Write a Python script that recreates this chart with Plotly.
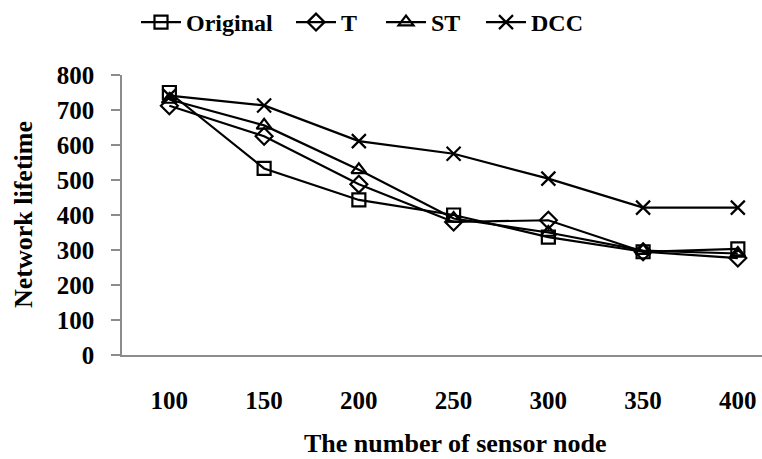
import plotly.graph_objects as go

nodes = ["100", "150", "200", "250", "300", "350", "400"]
original = [750, 533, 443, 400, 337, 295, 303]
t_vals = [712, 625, 488, 380, 385, 295, 277]
st_vals = [730, 656, 529, 390, 350, 298, 290]
dcc_vals = [741, 713, 611, 575, 504, 421, 421]

series = [
    ("Original", original, "square-open"),
    ("T", t_vals, "diamond-open"),
    ("ST", st_vals, "triangle-up-open"),
    ("DCC", dcc_vals, "x-thin-open"),
]
legend_ids = ["legend", "legend2", "legend3", "legend4"]
legend_px = [141, 296, 386, 486]

font_family = "Liberation Serif, Times New Roman, serif"
L, T, W, H = 122, 73, 762, 459
B = 459 - 355

fig = go.Figure()
for (name, vals, sym), lid in zip(series, legend_ids):
    fig.add_trace(go.Scatter(
        x=nodes, y=vals, name=name, mode="lines+markers", legend=lid,
        line=dict(color="black", width=2.2),
        marker=dict(symbol=sym, size=13 if sym != "x-thin-open" else 14,
                    color="black", line=dict(color="black", width=2.2)),
    ))

legend_cfg = {}
for lid, px in zip(legend_ids, legend_px):
    legend_cfg[lid] = dict(
        orientation="h", x=(px - 5 - L) / (W - L), xanchor="left",
        y=1 + (T - 20) / (355 - T), yanchor="middle",
        font=dict(size=24, family=font_family, weight="bold"),
        itemwidth=40, bgcolor="rgba(0,0,0,0)")

fig.update_layout(
    width=W, height=H,
    margin=dict(l=L, r=0, t=T, b=B),
    paper_bgcolor="white", plot_bgcolor="white",
    font=dict(family=font_family, color="black"),
    showlegend=True,
    xaxis=dict(type="category", range=[-0.5, 6.255], showgrid=False,
               showline=True, linecolor="#8c8c8c", linewidth=1.5,
               ticks="", ticklabelstandoff=22,
               tickfont=dict(size=25, family=font_family, weight="bold"),
               zeroline=False),
    yaxis=dict(range=[0, 800], dtick=100, showgrid=False,
               showline=True, linecolor="#8c8c8c", linewidth=1.5,
               ticks="outside", ticklen=9, tickcolor="#8c8c8c", tickwidth=1.5,
               ticklabelstandoff=12,
               tickfont=dict(size=25, family=font_family, weight="bold"),
               zeroline=False),
    annotations=[
        dict(text="The number of sensor node", xref="paper", yref="paper",
             x=(455 - L) / (W - L), y=-(444 - 355) / (355 - T),
             xanchor="center", yanchor="middle", showarrow=False,
             font=dict(size=26, family=font_family, weight="bold")),
        dict(text="Network lifetime", xref="paper", yref="paper",
             x=-(L - 23) / (W - L), y=0.5, textangle=-90,
             xanchor="center", yanchor="middle", showarrow=False,
             font=dict(size=26, family=font_family, weight="bold")),
    ],
    **legend_cfg,
)

fig.write_html("out.html")
